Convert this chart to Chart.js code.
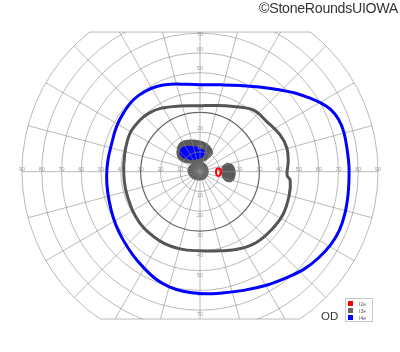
<!DOCTYPE html>
<html>
<head>
<meta charset="utf-8">
<script src="https://cdn.jsdelivr.net/npm/chart.js@4/dist/chart.umd.min.js"></script>
<style>
  html,body{margin:0;padding:0;background:#fff;}
  #wrap{position:relative;width:400px;height:352px;overflow:hidden;font-family:"Liberation Sans",Arial,sans-serif;}
  canvas{position:absolute;left:0;top:0;}
  #wm{position:absolute;right:2px;top:0px;font-size:14.2px;color:#333;letter-spacing:-0.3px;}
  #od{position:absolute;left:321px;top:310px;font-size:11.5px;color:#333;}
  #lg{position:absolute;left:345px;top:298px;width:26px;height:22px;border:1px solid #c8c8c8;background:#fff;}
  .it{position:absolute;left:2px;height:6px;font-size:5px;line-height:6px;color:#555;}
  .sw{display:inline-block;width:5px;height:5px;vertical-align:top;margin-right:6px;}
</style>
</head>
<body>
<div id="wrap">
  <canvas id="c" width="400" height="352"></canvas>
  <div id="wm">©StoneRoundsUIOWA</div>
  <div id="od">OD</div>
  <div id="lg">
    <div class="it" style="top:2px"><span class="sw" style="background:#ff0000"></span>I2e</div>
    <div class="it" style="top:9px"><span class="sw" style="background:#666"></span>I3e</div>
    <div class="it" style="top:16px"><span class="sw" style="background:#0000ff"></span>I4e</div>
  </div>
</div>
<script>
// ---- data (degrees of visual field: x = horizontal, y = vertical) ----
const CIRCLES = [10,20,30,40,50,60,70,80,90];
const EMPH_CIRCLE = 30;
const SPOKE_STEP = 15;
const H_TICKS = [10,20,30,40,50,60,70,80,90];
const V_TICKS = [10,20,30,40,50,60,70];
const FIELD_TOP = 70.6;
const FIELD_BOTTOM = -74.5;

const ISO_I4E = [[0,44],[10,43.9],[20,43.6],[30,42.8],[40,41.4],[48,39.8],[55,37.4],[61,34.8],[66,31.5],[70,26.5],[72.7,20],[74.4,11],[75.3,3],[75.3,-4],[74.8,-12],[73.3,-21],[70.5,-29.5],[66,-37],[60,-43.5],[53,-49],[44,-53.5],[34,-57.3],[22,-60],[10,-61.4],[0,-61.6],[-8,-60.6],[-15.5,-58.2],[-22,-54.5],[-28.5,-48.5],[-34,-42],[-38.8,-34.6],[-42.5,-27],[-45,-19],[-46.7,-10],[-47.2,-2],[-46.5,6],[-44.7,14],[-42.2,22.8],[-38.5,30],[-33.5,36.5],[-27.5,40.7],[-21.5,43.2],[-15,44.2],[-7,44.2],[0,44]];
const ISO_I3E = [[0,33.3],[8,33.5],[16.7,33],[26.8,31.2],[33.8,25.3],[40.5,18.6],[43.9,12],[44.6,5.1],[44,-1.7],[45.6,-4.5],[45.1,-11.8],[42,-21.5],[36,-29.5],[28.5,-35.8],[20,-39],[10,-40],[0,-40],[-10.1,-39],[-20.3,-35],[-30.4,-26],[-36.5,-13],[-38.5,-2],[-38,9.3],[-35.4,19.4],[-30.4,26],[-26,29.5],[-20,32],[-10,33.2],[0,33.3]];
const ISO_I2E = [[9.3,1.8],[10.2,1.3],[10.5,-0.2],[10.2,-1.7],[9.3,-2.2],[8.4,-1.7],[8.1,-0.2],[8.4,1.3],[9.3,1.8]];
const SCOT_I3E_UPPER = [[-11.3,12.7],[-9.5,15],[-5.1,16],[0,15.5],[3.6,14],[5.8,11.5],[6.3,9.3],[4.2,6.8],[1,5],[-3.5,4.3],[-7.8,4.8],[-10.3,6],[-11.6,9],[-11.3,12.7]];
const SCOT_I3E_CENTER = [[-1,5],[2.5,4],[4.1,0.5],[3,-3],[0,-4.2],[-3.5,-3.5],[-5.5,-1.5],[-6,1.5],[-4,4],[-1,5]];
const SCOT_I3E_RIGHT = [[13.5,4.3],[16,3.8],[17.5,1.5],[17.7,-2],[16.5,-4.6],[14.5,-5.1],[12.2,-4],[11,-1],[11.3,2.5],[13.5,4.3]];
const SCOT_I4E = [[-10.1,10.1],[-9.3,11.8],[-6.7,12.7],[-1.7,12.4],[1.7,11],[2.5,9.3],[0.9,7.3],[-3.4,6.3],[-7.6,6.8],[-9.8,8.5],[-10.1,10.1]];

const toXY = a => a.map(p => ({x:p[0], y:p[1]}));

function lineDs(label, arr, color, width){
  return {label, data: toXY(arr), showLine:true, borderColor:color, borderWidth:width,
    pointRadius:0, tension:0.4, fill:false, role:'line'};
}
function blobDs(label, arr, color){
  return {label, data: toXY(arr), showLine:true, borderColor:color, borderWidth:1,
    backgroundColor:color, pointRadius:0, tension:0.4, fill:'shape', role:'blob'};
}

const gridPlugin = {
  id:'goldmannGrid',
  beforeDraw(chart){ chart.$gridDone = false; },
  beforeDatasetDraw(chart, args){
    const ds = chart.data.datasets[args.index];
    if (ds.role !== 'line' || chart.$gridDone) return;
    chart.$gridDone = true;
    const xs = chart.scales.x, ys = chart.scales.y, ctx = chart.ctx;
    const cx = xs.getPixelForValue(0), cy = ys.getPixelForValue(0);
    const R = r => xs.getPixelForValue(r) - cx;
    const maxR = CIRCLES[CIRCLES.length-1];
    const yTop = ys.getPixelForValue(FIELD_TOP), yBot = ys.getPixelForValue(FIELD_BOTTOM);
    ctx.save();
    ctx.beginPath();
    ctx.rect(0, yTop, chart.width, yBot - yTop);
    ctx.clip();
    ctx.strokeStyle = 'rgba(140,140,140,0.6)';
    ctx.lineWidth = 1;
    CIRCLES.forEach(r => {
      if (r === EMPH_CIRCLE) return;
      ctx.beginPath(); ctx.arc(cx, cy, R(r), 0, Math.PI*2); ctx.stroke();
    });
    for (let a = 0; a < 360; a += SPOKE_STEP){
      const t = a*Math.PI/180;
      ctx.beginPath(); ctx.moveTo(cx, cy);
      ctx.lineTo(xs.getPixelForValue(maxR*Math.cos(t)), ys.getPixelForValue(maxR*Math.sin(t)));
      ctx.stroke();
    }
    ctx.strokeStyle = '#666'; ctx.lineWidth = 1.2;
    ctx.beginPath(); ctx.arc(cx, cy, R(EMPH_CIRCLE), 0, Math.PI*2); ctx.stroke();
    ctx.restore();
    // straight top / bottom edges
    ctx.save();
    ctx.strokeStyle = 'rgba(140,140,140,0.6)'; ctx.lineWidth = 1;
    [FIELD_TOP, FIELD_BOTTOM].forEach(v => {
      const hw = Math.sqrt(maxR*maxR - v*v);
      const py = ys.getPixelForValue(v);
      ctx.beginPath();
      ctx.moveTo(xs.getPixelForValue(-hw), py);
      ctx.lineTo(xs.getPixelForValue(hw), py);
      ctx.stroke();
    });
    // tick labels
    ctx.fillStyle = '#9a9a9a';
    ctx.font = '5.5px "Liberation Sans", Arial, sans-serif';
    ctx.textAlign = 'center'; ctx.textBaseline = 'middle';
    H_TICKS.forEach(v => {
      ctx.fillText(String(v), xs.getPixelForValue(-v), cy - 2.5);
      ctx.fillText(String(v), xs.getPixelForValue(v), cy - 2.5);
    });
    V_TICKS.forEach(v => {
      const up = Math.max(ys.getPixelForValue(v) - 4, yTop + 2.5);
      ctx.fillText(String(v), cx, up);
      ctx.fillText(String(v), cx, ys.getPixelForValue(-v) + 4.5);
    });
    ctx.restore();
  }
};

new Chart(document.getElementById('c'), {
  type:'scatter',
  data:{ datasets:[
    lineDs('I2e', ISO_I2E, '#ff0000', 2),
    lineDs('I4e', ISO_I4E, '#0000ff', 3),
    lineDs('I3e', ISO_I3E, '#555555', 3),
    blobDs('I4e scotoma', SCOT_I4E, '#0000ff'),
    blobDs('I3e scotoma', SCOT_I3E_UPPER, '#5a5a5a'),
    blobDs('I3e scotoma', SCOT_I3E_CENTER, '#5a5a5a'),
    blobDs('I3e scotoma', SCOT_I3E_RIGHT, '#5a5a5a')
  ]},
  options:{
    responsive:false, animation:false,
    layout:{padding:{left:18,right:18,top:27.3,bottom:28}},
    scales:{
      x:{type:'linear', min:-92, max:92, display:false},
      y:{type:'linear', min:-77, max:73, display:false}
    },
    plugins:{legend:{display:false}, tooltip:{enabled:false}}
  },
  plugins:[gridPlugin]
});
</script>
</body>
</html>
